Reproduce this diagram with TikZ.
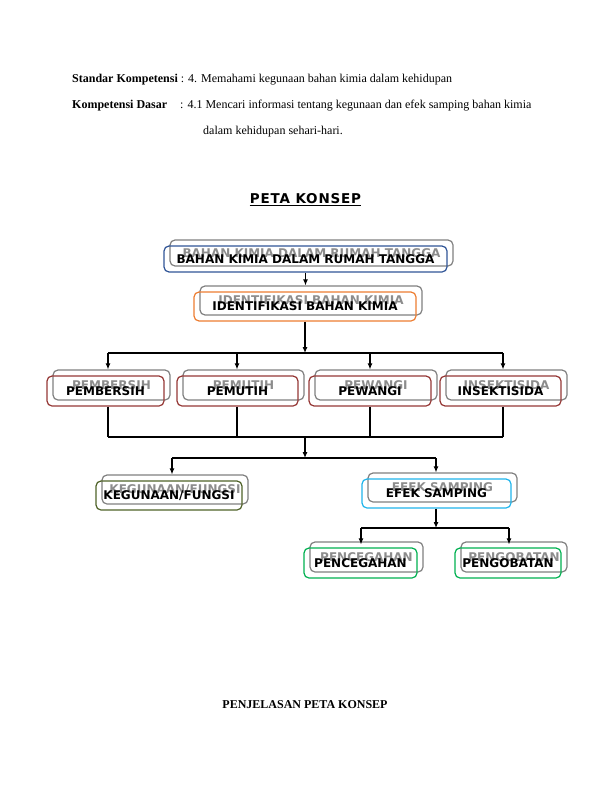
\documentclass[tikz,border=0pt]{standalone}
\usepackage{fontspec}
\setmainfont{Liberation Serif}
\newfontfamily\boxfont{DejaVu Sans Bold}
\newfontfamily\titlefont{DejaVu Sans Bold}[LetterSpace=6]
\usetikzlibrary{arrows.meta}
\definecolor{cblue}{RGB}{47,84,150}
\definecolor{corange}{RGB}{237,125,49}
\definecolor{cred}{RGB}{149,55,53}
\definecolor{colive}{RGB}{79,98,40}
\definecolor{ccyan}{RGB}{30,180,235}
\definecolor{cgreen}{RGB}{0,176,80}
\definecolor{shadowgray}{RGB}{128,128,128}
\definecolor{shadowtext}{RGB}{140,140,140}
\tikzset{
  boxtext/.style={font=\boxfont\fontsize{12}{14}\selectfont},
  front/.style={draw=#1, line width=1.2pt, rounded corners=5pt, inner sep=0pt, boxtext, text=black},
  shadowbox/.style={draw=shadowgray, line width=1.2pt, rounded corners=5pt, inner sep=0pt, boxtext, text=shadowtext},
  conn/.style={line width=1.1pt, draw=black},
  arr/.style={conn, -{Latex[length=6pt,width=5pt]}},
  hdr/.style={anchor=base west, inner sep=0pt, font=\fontsize{12}{14}\selectfont},
}
\newcommand\cbox[7]{%
  \node[shadowbox, minimum width=#4pt, minimum height=#5pt] (#1s) at ({#2+6},{#3-6}) {#7};
  \node[front=#6, minimum width=#4pt, minimum height=#5pt] (#1) at (#2,#3) {#7};
}
\begin{document}
\begin{tikzpicture}[x=1pt,y=-1pt]
\useasboundingbox (0,0) rectangle (612,792);
% header
\node[hdr] (h1) at (72,82) {\textbf{Standar Kompetensi} : 4. Memahami kegunaan bahan kimia dalam kehidupan};
\node[hdr] (h2a) at (72,108) {\textbf{Kompetensi Dasar}};
\node[hdr] (h2b) at (180,108) {: 4.1 Mencari informasi tentang kegunaan dan efek samping bahan kimia};
\node[hdr] (h3) at (203,134) {dalam kehidupan sehari-hari.};
% title
\node[anchor=base, inner sep=0pt, font=\titlefont\fontsize{13.5}{16}\selectfont] (title) at (305.5,203) {PETA KONSEP};
\draw[line width=1pt] ([yshift=-2pt]title.base west) -- ([yshift=-2pt]title.base east);
% boxes
\cbox{b1}{305.5}{259}{283}{26}{cblue}{BAHAN KIMIA DALAM RUMAH TANGGA}
\cbox{b2}{305}{306.5}{222}{29}{corange}{IDENTIFIKASI BAHAN KIMIA}
\cbox{r1}{105.5}{391}{117}{30}{cred}{PEMBERSIH}
\cbox{r2}{237.5}{391}{121}{30}{cred}{PEMUTIH}
\cbox{r3}{370}{391}{122}{30}{cred}{PEWANGI}
\cbox{r4}{500.5}{391}{121}{30}{cred}{INSEKTISIDA}
\cbox{k}{169}{495.5}{146}{29}{colive}{KEGUNAAN/FUNGSI}
\cbox{e}{436.5}{493.5}{149}{29}{ccyan}{EFEK SAMPING}
\cbox{p1}{360.5}{563}{113}{30}{cgreen}{PENCEGAHAN}
\cbox{p2}{508}{563}{106}{30}{cgreen}{PENGOBATAN}
% connectors
\coordinate (t1) at (305,353);
\coordinate (t1a) at (108,353);
\coordinate (t1b) at (237,353);
\coordinate (t1c) at (370,353);
\coordinate (t1d) at (503,353);
\draw[arr] (b1.south) -- (b1.south |- b2s.north);
\draw[arr] (b2.south) -- (b2.south |- t1);
\draw[conn] (t1a) -- (t1d);
\draw[arr] (t1a) -- (t1a |- r1s.north);
\draw[arr] (t1b) -- (t1b |- r2s.north);
\draw[arr] (t1c) -- (t1c |- r3s.north);
\draw[arr] (t1d) -- (t1d |- r4s.north);
\coordinate (u1a) at (108,437);
\coordinate (u1b) at (237,437);
\coordinate (u1c) at (370,437);
\coordinate (u1d) at (503,437);
\coordinate (u1m) at (305,437);
\draw[conn] (r1.south -| u1a) -- (u1a);
\draw[conn] (r2.south -| u1b) -- (u1b);
\draw[conn] (r3.south -| u1c) -- (u1c);
\draw[conn] (r4.south -| u1d) -- (u1d);
\draw[conn] (u1a) -- (u1d);
\coordinate (v1) at (305,458);
\coordinate (v1a) at (172,458);
\coordinate (v1b) at (436,458);
\draw[arr] (u1m) -- (v1);
\draw[conn] (v1a) -- (v1b);
\draw[arr] (v1a) -- (v1a |- ks.north);
\draw[arr] (v1b) -- (v1b |- es.north);
\coordinate (w1) at (436,528);
\coordinate (w1a) at (361,528);
\coordinate (w1b) at (509,528);
\draw[arr] (e.south -| w1) -- (w1);
\draw[conn] (w1a) -- (w1b);
\draw[arr] (w1a) -- ([yshift=-3pt]w1a |- p1s.north);
\draw[arr] (w1b) -- ([yshift=-3pt]w1b |- p2s.north);
% footer
\node[anchor=base, inner sep=0pt, font=\bfseries\fontsize{12}{14}\selectfont] (foot) at (305,708) {PENJELASAN PETA KONSEP};
\end{tikzpicture}
\end{document}
